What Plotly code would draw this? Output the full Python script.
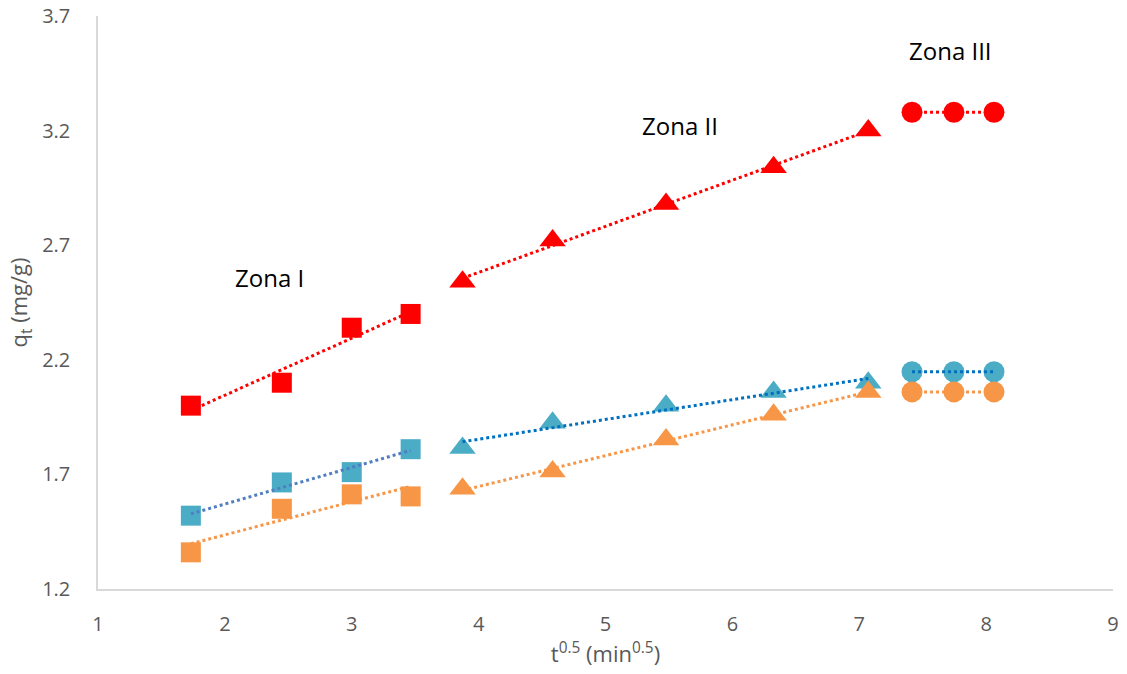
import numpy as np
import plotly.graph_objects as go

# sqrt(t) values for each zone
x_zone1 = [1.732, 2.449, 3.000, 3.464]
x_zone2 = [3.873, 4.583, 5.477, 6.325, 7.071]
x_zone3 = [7.416, 7.746, 8.062]

# q_t values (mg/g) for each series, split by zone
red_z1 = [2.00, 2.10, 2.34, 2.40]
red_z2 = [2.54, 2.72, 2.88, 3.04, 3.20]
red_z3 = [3.28, 3.28, 3.28]

teal_z1 = [1.52, 1.665, 1.71, 1.81]
teal_z2 = [1.815, 1.925, 2.00, 2.06, 2.10]
teal_z3 = [2.148, 2.148, 2.148]

orange_z1 = [1.36, 1.55, 1.613, 1.604]
orange_z2 = [1.637, 1.713, 1.852, 1.96, 2.06]
orange_z3 = [2.06, 2.06, 2.06]

zone_labels = ["Zona I", "Zona II", "Zona III"]
zone_label_x = [2.35, 5.59, 7.72]
zone_label_y = [2.557, 3.222, 3.55]

RED = "#FF0000"
TEAL = "#4BACC6"
ORANGE = "#F79646"
FONT = "Open Sans"

fig = go.Figure()

series = [
    (RED, [(x_zone1, red_z1, "square", RED), (x_zone2, red_z2, "triangle-up", RED), (x_zone3, red_z3, "circle", RED)]),
    (TEAL, [(x_zone1, teal_z1, "square", "#4F7FC2"), (x_zone2, teal_z2, "triangle-up", "#0070C0"), (x_zone3, teal_z3, "circle", "#0070C0")]),
    (ORANGE, [(x_zone1, orange_z1, "square", ORANGE), (x_zone2, orange_z2, "triangle-up", ORANGE), (x_zone3, orange_z3, "circle", ORANGE)]),
]

marker_size = {"square": 20, "triangle-up": 23, "circle": 21}

# markers first
for color, zones in series:
    for xs, ys, sym, _ in zones:
        fig.add_trace(go.Scatter(
            x=xs, y=ys, mode="markers",
            marker=dict(symbol=sym, size=marker_size[sym], color=color,
                        line=dict(width=0)),
            showlegend=False, hoverinfo="x+y",
        ))

# linear trend lines per zone, drawn over the markers
for color, zones in series:
    for xs, ys, _, tcolor in zones:
        slope, icpt = np.polyfit(xs, ys, 1)
        xe = np.array([xs[0], xs[-1]])
        fig.add_trace(go.Scatter(
            x=xe, y=slope * xe + icpt, mode="lines",
            line=dict(color=tcolor, width=3, dash="dot"),
            showlegend=False, hoverinfo="skip",
        ))

for txt, ax, ay in zip(zone_labels, zone_label_x, zone_label_y):
    fig.add_annotation(x=ax, y=ay, text=txt, showarrow=False,
                       font=dict(size=24, color="#000000", family=FONT))

axis_font = dict(family=FONT, size=20, color="#595959")
title_font = dict(family=FONT, size=22, color="#595959")

fig.update_layout(
    width=1127, height=674,
    margin=dict(l=98, r=14, t=16, b=85),
    plot_bgcolor="white", paper_bgcolor="white",
    font=dict(family=FONT),
    xaxis=dict(
        range=[1, 9], tick0=1, dtick=1, showgrid=False, zeroline=False,
        showline=True, linecolor="#D9D9D9", linewidth=1.5, automargin=False,
        tickfont=axis_font, ticks="", ticklabelstandoff=16,
        title=dict(text="t<sup>0.5</sup> (min<sup>0.5</sup>)", font=title_font, standoff=8),
    ),
    yaxis=dict(
        range=[1.2, 3.7], tick0=1.2, dtick=0.5, tickformat=".1f",
        showgrid=False, zeroline=False, automargin=False,
        showline=True, linecolor="#D9D9D9", linewidth=1.5,
        tickfont=axis_font, ticks="", ticklabelstandoff=22,
        title=dict(text="q<sub>t</sub> (mg/g)", font=title_font, standoff=8),
    ),
)

fig.write_html("out.html")
